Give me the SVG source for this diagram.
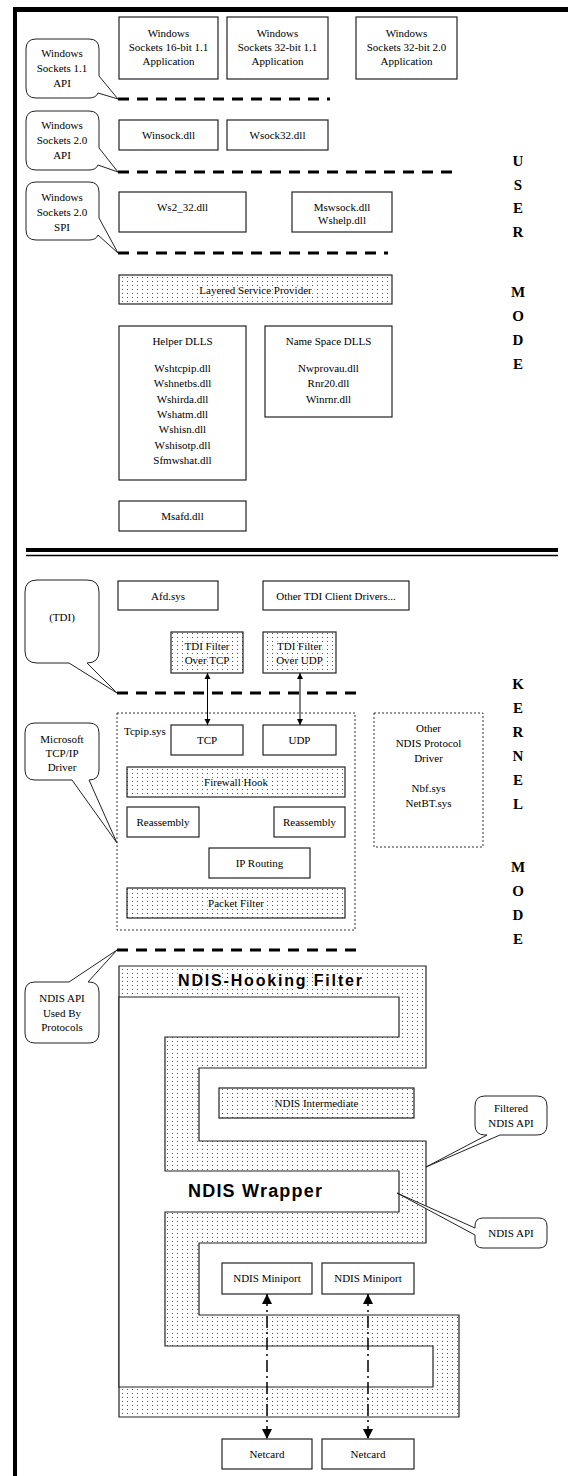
<svg xmlns="http://www.w3.org/2000/svg" width="568" height="1476" viewBox="0 0 568 1476">
<defs>
<style>
.box{fill:#fff;stroke:#222;stroke-width:1.2}
.dotbox{fill:url(#dots);stroke:#222;stroke-width:1.2}
.grp{fill:none;stroke:#333;stroke-width:1;stroke-dasharray:2 2}
.t{font-family:"Liberation Serif","Times New Roman",serif;font-size:11px;fill:#000;text-anchor:middle}
.tl{font-family:"Liberation Serif","Times New Roman",serif;font-size:11px;fill:#000;text-anchor:start}
.halo{paint-order:stroke;stroke:#fff;stroke-width:3px;stroke-linejoin:round}
.api{fill:none;stroke:#000;stroke-width:3;stroke-dasharray:11 8}
.call{fill:#fff;stroke:#222;stroke-width:1}
.mode{font-family:"Liberation Serif","Times New Roman",serif;font-size:15px;font-weight:bold;text-anchor:middle;fill:#000}
.big{font-family:"Liberation Sans",Arial,sans-serif;font-weight:bold;text-anchor:middle;fill:#000}
.conn{stroke:#000;stroke-width:1;fill:none}
.dd{stroke:#000;stroke-width:1.5;stroke-dasharray:12 4 2 4;fill:none}
</style>
<pattern id="dots" width="5" height="4" patternUnits="userSpaceOnUse">
<rect width="5" height="4" fill="#fff"/>
<rect x="2" y="1" width="1" height="1" fill="#555"/>
</pattern>
<marker id="ah" viewBox="0 0 10 10" refX="10" refY="5" markerWidth="6" markerHeight="7" markerUnits="userSpaceOnUse" orient="auto-start-reverse">
<path d="M0,0L10,5L0,10z" fill="#000"/>
</marker>
<marker id="ahb" viewBox="0 0 10 10" refX="10" refY="5" markerWidth="11" markerHeight="10" markerUnits="userSpaceOnUse" orient="auto-start-reverse">
<path d="M0,0L10,5L0,10z" fill="#000"/>
</marker>
</defs>

<g id="frame">
<rect x="13" y="7" width="555" height="5" fill="#000"/>
<rect x="13" y="7" width="4" height="1469" fill="#000"/>
<rect x="26" y="548" width="532" height="4" fill="#000"/>
<line x1="26" y1="555.5" x2="558" y2="555.5" stroke="#000" stroke-width="1.5"/>
</g>

<g id="api-lines">
<line class="api" x1="118" y1="99" x2="330" y2="99"/>
<line class="api" x1="118" y1="172" x2="460" y2="172"/>
<line class="api" x1="118" y1="253" x2="388" y2="253"/>
<line class="api" x1="117" y1="693" x2="357" y2="693"/>
<line class="api" x1="117" y1="950" x2="357" y2="950"/>
</g>

<g id="user-mode-label">
<text class="mode" x="518" y="166">U</text>
<text class="mode" x="518" y="190">S</text>
<text class="mode" x="518" y="213">E</text>
<text class="mode" x="518" y="237">R</text>
<text class="mode" x="518" y="297">M</text>
<text class="mode" x="518" y="321">O</text>
<text class="mode" x="518" y="345">D</text>
<text class="mode" x="518" y="369">E</text>
</g>

<g id="kernel-mode-label">
<text class="mode" x="518" y="689">K</text>
<text class="mode" x="518" y="713">E</text>
<text class="mode" x="518" y="737">R</text>
<text class="mode" x="518" y="761">N</text>
<text class="mode" x="518" y="785">E</text>
<text class="mode" x="518" y="809">L</text>
<text class="mode" x="518" y="872">M</text>
<text class="mode" x="518" y="896">O</text>
<text class="mode" x="518" y="920">D</text>
<text class="mode" x="518" y="944">E</text>
</g>

<g id="callout-ws11">
<path class="call" d="M36,39 H89 Q99,39 99,49 V76 L118,99 L98,93 Q96,98 89,98 H36 Q26,98 26,88 V49 Q26,39 36,39 Z"/>
<text class="t" x="62" y="57">Windows</text>
<text class="t" x="62" y="72">Sockets 1.1</text>
<text class="t" x="62" y="87">API</text>
</g>
<g id="callout-ws20api">
<path class="call" d="M36,111 H89 Q99,111 99,121 V148 L118,172 L98,165 Q96,170 89,170 H36 Q26,170 26,160 V121 Q26,111 36,111 Z"/>
<text class="t" x="62" y="129">Windows</text>
<text class="t" x="62" y="144">Sockets 2.0</text>
<text class="t" x="62" y="159">API</text>
</g>
<g id="callout-ws20spi">
<path class="call" d="M36,182 H89 Q99,182 99,192 V218 L118,253 L98,235 Q96,240 89,240 H36 Q26,240 26,230 V192 Q26,182 36,182 Z"/>
<text class="t" x="62" y="201">Windows</text>
<text class="t" x="62" y="216">Sockets 2.0</text>
<text class="t" x="62" y="231">SPI</text>
</g>

<g id="app16">
<rect class="box" x="119" y="17" width="99" height="62"/>
<text class="t" x="168.5" y="37">Windows</text>
<text class="t" x="168.5" y="51">Sockets 16-bit 1.1</text>
<text class="t" x="168.5" y="65">Application</text>
</g>
<g id="app32-11">
<rect class="box" x="227" y="17" width="101" height="62"/>
<text class="t" x="277.5" y="37">Windows</text>
<text class="t" x="277.5" y="51">Sockets 32-bit 1.1</text>
<text class="t" x="277.5" y="65">Application</text>
</g>
<g id="app32-20">
<rect class="box" x="356" y="17" width="101" height="62"/>
<text class="t" x="406.5" y="37">Windows</text>
<text class="t" x="406.5" y="51">Sockets 32-bit 2.0</text>
<text class="t" x="406.5" y="65">Application</text>
</g>

<g id="winsock">
<rect class="box" x="119" y="120" width="99" height="30"/>
<text class="t" x="168.5" y="139">Winsock.dll</text>
</g>
<g id="wsock32">
<rect class="box" x="227" y="120" width="101" height="30"/>
<text class="t" x="277.5" y="139">Wsock32.dll</text>
</g>

<g id="ws2_32">
<rect class="box" x="119" y="192" width="127" height="40"/>
<text class="t" x="182.5" y="211">Ws2_32.dll</text>
</g>
<g id="mswsock">
<rect class="box" x="292" y="192" width="100" height="40"/>
<text class="t" x="342" y="211">Mswsock.dll</text>
<text class="t" x="342" y="224">Wshelp.dll</text>
</g>

<g id="lsp">
<rect class="dotbox" x="119" y="275" width="273" height="29"/>
<text class="t halo" x="255.5" y="294">Layered Service Provider</text>
</g>

<g id="helper-dlls">
<rect class="box" x="119" y="326" width="127" height="154"/>
<text class="t" x="182.5" y="345">Helper DLLS</text>
<text class="t" x="182.5" y="372">Wshtcpip.dll</text>
<text class="t" x="182.5" y="387">Wshnetbs.dll</text>
<text class="t" x="182.5" y="403">Wshirda.dll</text>
<text class="t" x="182.5" y="418">Wshatm.dll</text>
<text class="t" x="182.5" y="433">Wshisn.dll</text>
<text class="t" x="182.5" y="449">Wshisotp.dll</text>
<text class="t" x="182.5" y="464">Sfmwshat.dll</text>
</g>
<g id="namespace-dlls">
<rect class="box" x="265" y="326" width="127" height="91"/>
<text class="t" x="328.5" y="345">Name Space DLLS</text>
<text class="t" x="328.5" y="372">Nwprovau.dll</text>
<text class="t" x="328.5" y="387">Rnr20.dll</text>
<text class="t" x="328.5" y="403">Winrnr.dll</text>
</g>

<g id="msafd">
<rect class="box" x="119" y="501" width="127" height="30"/>
<text class="t" x="182.5" y="520">Msafd.dll</text>
</g>

<g id="callout-tdi">
<path class="call" d="M37,580 H87 Q99,580 99,592 V651 Q99,663 87,663 L117,693 L69,663 H37 Q25,663 25,651 V592 Q25,580 37,580 Z"/>
<text class="t" x="62" y="621">(TDI)</text>
</g>

<g id="afd">
<rect class="box" x="118" y="581" width="100" height="29"/>
<text class="t" x="168" y="600">Afd.sys</text>
</g>
<g id="other-tdi">
<rect class="box" x="263" y="581" width="146" height="29"/>
<text class="t" x="336" y="600">Other TDI Client Drivers...</text>
</g>

<g id="tdi-filter-tcp">
<rect class="dotbox" x="171" y="632" width="72" height="41"/>
<text class="t halo" x="207" y="650">TDI Filter</text>
<text class="t halo" x="207" y="664">Over TCP</text>
</g>
<g id="tdi-filter-udp">
<rect class="dotbox" x="263" y="632" width="73" height="41"/>
<text class="t halo" x="299.5" y="650">TDI Filter</text>
<text class="t halo" x="299.5" y="664">Over UDP</text>
</g>

<g id="callout-tcpip">
<path class="call" d="M35,723 H89 Q99,723 99,733 V770 Q99,780 89,780 L117,843 L72,780 H35 Q25,780 25,770 V733 Q25,723 35,723 Z"/>
<text class="t" x="62" y="743">Microsoft</text>
<text class="t" x="62" y="757">TCP/IP</text>
<text class="t" x="62" y="771">Driver</text>
</g>

<g id="tcpip-sys">
<rect class="grp" x="117" y="713" width="238" height="217"/>
<text class="tl" x="124" y="735">Tcpip.sys</text>
</g>
<g id="tcp">
<rect class="box" x="171" y="725" width="72" height="30"/>
<text class="t" x="207" y="744">TCP</text>
</g>
<g id="udp">
<rect class="box" x="263" y="725" width="73" height="30"/>
<text class="t" x="299.5" y="744">UDP</text>
</g>
<g id="firewall-hook">
<rect class="dotbox" x="127" y="767" width="218" height="30"/>
<text class="t halo" x="236" y="786">Firewall Hook</text>
</g>
<g id="reassembly-1">
<rect class="box" x="127" y="807" width="72" height="30"/>
<text class="t" x="163" y="826">Reassembly</text>
</g>
<g id="reassembly-2">
<rect class="box" x="274" y="807" width="71" height="30"/>
<text class="t" x="309.5" y="826">Reassembly</text>
</g>
<g id="ip-routing">
<rect class="box" x="209" y="848" width="101" height="30"/>
<text class="t" x="259.5" y="867">IP Routing</text>
</g>
<g id="packet-filter">
<rect class="dotbox" x="127" y="888" width="218" height="30"/>
<text class="t halo" x="236" y="907">Packet Filter</text>
</g>

<g id="other-ndis-protocol">
<rect class="grp" x="374" y="713" width="109" height="134"/>
<text class="t" x="428.5" y="732">Other</text>
<text class="t" x="428.5" y="747">NDIS Protocol</text>
<text class="t" x="428.5" y="762">Driver</text>
<text class="t" x="428.5" y="792">Nbf.sys</text>
<text class="t" x="428.5" y="807">NetBT.sys</text>
</g>

<g id="callout-ndis-api-protocols">
<path class="call" d="M35,982 H69 L117,950 L88,982 H89 Q99,982 99,992 V1033 Q99,1043 89,1043 H35 Q25,1043 25,1033 V992 Q25,982 35,982 Z"/>
<text class="t" x="62" y="1002">NDIS API</text>
<text class="t" x="62" y="1017">Used By</text>
<text class="t" x="62" y="1031">Protocols</text>
</g>

<g id="ndis-hooking-filter">
<path class="dotbox" d="M119,966 H426 V1068 H199 V1141 H426 V1243 H199 V1315 H459 V1417 H119 Z"/>
<text class="big halo" x="270" y="986" font-size="16" textLength="184" lengthAdjust="spacing">NDIS-Hooking Filter</text>
</g>
<g id="ndis-wrapper">
<path class="box" d="M119,997 H399 V1037 H165 V1171 H399 V1212 H165 V1346 H433 V1387 H119 Z"/>
<text class="big" x="255" y="1197" font-size="18" textLength="134" lengthAdjust="spacing">NDIS Wrapper</text>
</g>

<g id="ndis-intermediate">
<rect class="dotbox" x="219" y="1088" width="195" height="30"/>
<text class="t halo" x="316.5" y="1107">NDIS Intermediate</text>
</g>

<g id="callout-filtered-ndis-api">
<path class="call" d="M485,1096 H537 Q547,1096 547,1106 V1125 Q547,1135 537,1135 H500 L426,1167 L487,1135 H485 Q475,1135 475,1125 V1106 Q475,1096 485,1096 Z"/>
<text class="t" x="511" y="1112">Filtered</text>
<text class="t" x="511" y="1127">NDIS API</text>
</g>
<g id="callout-ndis-api">
<path class="call" d="M483,1218 H539 Q547,1218 547,1226 V1240 Q547,1248 539,1248 H483 Q475,1248 475,1240 V1235 L397,1193 L475,1228 V1226 Q475,1218 483,1218 Z"/>
<text class="t" x="511" y="1237">NDIS API</text>
</g>

<g id="ndis-miniport-1">
<rect class="box" x="222" y="1263" width="90" height="31"/>
<text class="t" x="267" y="1282">NDIS Miniport</text>
</g>
<g id="ndis-miniport-2">
<rect class="box" x="322" y="1263" width="92" height="31"/>
<text class="t" x="368" y="1282">NDIS Miniport</text>
</g>
<g id="netcard-1">
<rect class="box" x="222" y="1439" width="90" height="30"/>
<text class="t" x="267" y="1458">Netcard</text>
</g>
<g id="netcard-2">
<rect class="box" x="322" y="1439" width="92" height="30"/>
<text class="t" x="368" y="1458">Netcard</text>
</g>

<g id="connectors">
<line class="conn" x1="207.5" y1="673" x2="207.5" y2="725" marker-start="url(#ah)" marker-end="url(#ah)"/>
<line class="conn" x1="300" y1="673" x2="300" y2="725" marker-start="url(#ah)" marker-end="url(#ah)"/>
<line class="dd" x1="267" y1="1294" x2="267" y2="1439" marker-start="url(#ahb)" marker-end="url(#ahb)"/>
<line class="dd" x1="368" y1="1294" x2="368" y2="1439" marker-start="url(#ahb)" marker-end="url(#ahb)"/>
</g>
</svg>
